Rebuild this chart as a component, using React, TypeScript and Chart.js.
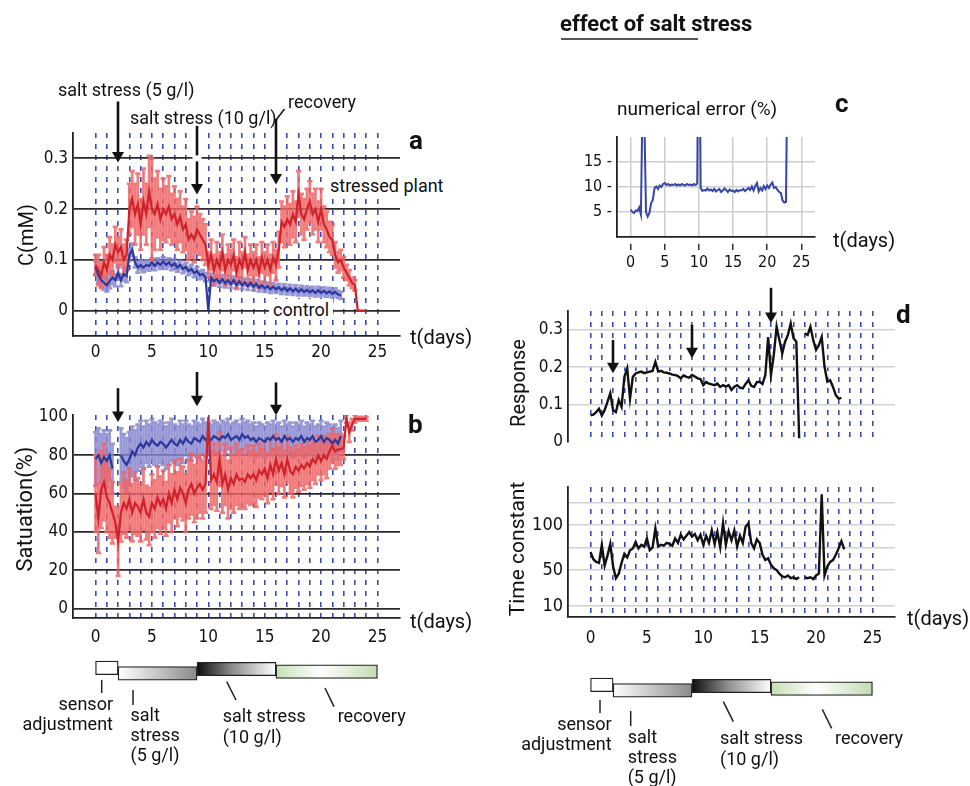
import React, { useEffect, useRef } from "react";
import { Chart, registerables } from "chart.js";

Chart.register(...registerables);

const TEXT_FONT = "Roboto, 'Liberation Sans', Arial, sans-serif";
const TICK_FONT = "'Liberation Sans Narrow', 'DejaVu Sans Condensed', Roboto, sans-serif";

// ---------- shared categories ----------
const STEP_DAYS = 0.25; // sampling interval of every series (days)
const DAY_GRID = [0, 1, 2, 3, 4, 5, 6, 7, 8, 9, 10, 11, 12, 13, 14, 15, 16, 17, 18, 19, 20, 21, 22, 23, 24, 25];
const DAY_LABELS = [0, 5, 10, 15, 20, 25];
const STRESS_DAYS = [2, 9, 16];
const PHASE_NAMES = ["sensor adjustment", "salt stress (5 g/l)", "salt stress (10 g/l)", "recovery"];
const PHASE_START = [0, 2, 9, 16];
const PHASE_END = [2, 9, 16, 25];

// ---------- panel a : C (mM) ----------
const A_Y_TICKS = [0, 0.1, 0.2, 0.3];
const A_STRESSED = [
  0.09, 0.08, 0.07, 0.095, 0.08, 0.11, 0.1, 0.13, 0.115, 0.125, 0.1, 0.11,
  0.2, 0.22, 0.19, 0.21, 0.17, 0.215, 0.19, 0.235,
  0.2, 0.19, 0.21, 0.18, 0.2, 0.19, 0.205, 0.18,
  0.19, 0.17, 0.185, 0.16, 0.17, 0.14, 0.15, 0.14,
  0.16, 0.15, 0.14, 0.13,
  0.09, 0.11, 0.08, 0.1, 0.085, 0.115, 0.08, 0.1,
  0.09, 0.11, 0.075, 0.1, 0.085, 0.115, 0.08, 0.1,
  0.085, 0.1, 0.075, 0.105, 0.085, 0.1, 0.08, 0.105,
  0.09, 0.12, 0.175, 0.165, 0.18, 0.17, 0.19, 0.175,
  0.23, 0.19, 0.18, 0.2, 0.215, 0.19, 0.2, 0.175,
  0.2, 0.17, 0.16, 0.145, 0.14, 0.11, 0.095, 0.1,
  0.085, 0.075, 0.065, 0.055, 0.05, 0, 0, 0, 0,
];
const A_STRESSED_ERR = [
  0.02, 0.03, 0.025, 0.03, 0.03, 0.035, 0.03, 0.035, 0.03, 0.035, 0.03, 0.03,
  0.05, 0.055, 0.06, 0.06, 0.05, 0.065, 0.06, 0.07,
  0.1, 0.07, 0.065, 0.06, 0.06, 0.055, 0.06, 0.05,
  0.055, 0.05, 0.05, 0.045, 0.05, 0.04, 0.045, 0.045,
  0.045, 0.04, 0.04, 0.04,
  0.025, 0.03, 0.03, 0.035, 0.03, 0.035, 0.03, 0.03,
  0.03, 0.03, 0.03, 0.035, 0.03, 0.03, 0.03, 0.03,
  0.03, 0.03, 0.03, 0.03, 0.03, 0.03, 0.03, 0.03,
  0.03, 0.035, 0.04, 0.04, 0.045, 0.04, 0.045, 0.04,
  0.045, 0.04, 0.04, 0.04, 0.04, 0.04, 0.04, 0.04,
  0.04, 0.035, 0.035, 0.03, 0.03, 0.025, 0.02, 0.02,
  0.02, 0.015, 0.015, 0.01, 0.01, 0, 0, 0, 0,
];
const A_CONTROL = [
  0.085, 0.07, 0.06, 0.055, 0.05, 0.058, 0.065, 0.06, 0.075, 0.06, 0.072, 0.068,
  0.11, 0.12, 0.095, 0.085, 0.09, 0.085, 0.09, 0.088,
  0.095, 0.088, 0.095, 0.09, 0.097, 0.09, 0.095, 0.088,
  0.093, 0.085, 0.09, 0.082, 0.086, 0.078, 0.082, 0.074,
  0.078, 0.07, 0.072, 0.066,
  0.0, 0.065, 0.058, 0.062, 0.055, 0.062, 0.054, 0.06,
  0.052, 0.06, 0.05, 0.058, 0.05, 0.056, 0.048, 0.055,
  0.047, 0.053, 0.045, 0.05, 0.044, 0.048, 0.042, 0.047,
  0.042, 0.046, 0.04, 0.045, 0.039, 0.044, 0.038, 0.043,
  0.037, 0.042, 0.037, 0.041, 0.036, 0.04, 0.035, 0.04,
  0.035, 0.039, 0.034, 0.038, 0.033, 0.037, 0.032, 0.03,
];
const A_CONTROL_ERR = [
  0.014, 0.015, 0.013, 0.014, 0.012, 0.014, 0.013, 0.012, 0.014, 0.012, 0.013, 0.012,
  0.012, 0.012, 0.01, 0.01, 0.009, 0.009, 0.009, 0.009,
  0.008, 0.008, 0.008, 0.008, 0.008, 0.008, 0.008, 0.008,
  0.008, 0.008, 0.008, 0.008, 0.008, 0.008, 0.008, 0.008,
  0.008, 0.008, 0.008, 0.008,
  0, 0.008, 0.008, 0.008, 0.008, 0.008, 0.008, 0.008,
  0.007, 0.007, 0.007, 0.007, 0.007, 0.007, 0.007, 0.007,
  0.007, 0.007, 0.007, 0.007, 0.007, 0.007, 0.007, 0.007,
  0.007, 0.007, 0.007, 0.007, 0.007, 0.007, 0.007, 0.007,
  0.007, 0.007, 0.007, 0.007, 0.007, 0.007, 0.007, 0.007,
  0.007, 0.007, 0.007, 0.007, 0.007, 0.007, 0.007, 0.007,
];

// ---------- panel b : saturation (%) ----------
const B_Y_TICKS = [0, 20, 40, 60, 80, 100];
const B_STRESSED = [
  60, 47, 62, 66, 58, 55, 50, 45, 35, 50, 55, 52,
  57, 50, 55, 53, 50, 57, 50, 48,
  55, 52, 58, 54, 57, 52, 60, 55,
  62, 57, 63, 60, 55, 62, 65, 60,
  63, 65, 62, 65,
  100, 67, 70, 66, 78, 65, 70, 62,
  68, 65, 70, 67, 68, 66, 70, 68,
  70, 67, 72, 70, 73, 68, 75, 70,
  78, 72, 76, 70, 78, 72, 70, 74,
  72, 75, 73, 76, 74, 78, 76, 80,
  77, 80, 78, 82, 85, 82, 83, 83,
  84, 99, 92, 96, 99, 99, 99, 99, 99,
];
const B_STRESSED_ERR = [
  20, 18, 20, 20, 18, 18, 16, 8, 18, 15, 16, 15,
  16, 15, 16, 15, 15, 16, 14, 15,
  15, 15, 16, 15, 15, 14, 15, 15,
  15, 14, 15, 14, 15, 15, 16, 15,
  16, 15, 15, 15,
  0, 15, 16, 15, 14, 15, 16, 15,
  16, 15, 16, 15, 15, 14, 15, 14,
  15, 14, 14, 13, 14, 13, 14, 13,
  13, 12, 12, 12, 12, 12, 12, 11,
  11, 11, 11, 11, 11, 11, 11, 10,
  10, 10, 10, 9, 9, 9, 8, 8,
  6, 2, 5, 3, 2, 1, 1, 1, 1,
];
const B_CONTROL = [
  78, 80, 76, 79, 77, 80, 73, null, null, 80, 77, 75,
  78, 82, 80, 84, 86, 84, 87, 85,
  88, 86, 85, 87, 86, 84, 86, 88,
  86, 85, 88, 86, 89, 87, 86, 89,
  88, 87, 90, 88,
  89, 88, 90, 89, 88, 90, 89, 91,
  88, 89, 90, 88, 91, 89, 90, 88,
  89, 87, 89, 88, 87, 89, 88, 90,
  88, 89, 87, 90, 88, 89, 87, 89,
  88, 90, 87, 89, 88, 90, 87, 88,
  90, 87, 89, 88, 86, 88, 86, 90,
];
const B_CONTROL_ERR = [
  14, 14, 15, 14, 14, 13, 13, null, null, 14, 14, 14,
  14, 13, 13, 12, 12, 11, 11, 11,
  11, 11, 11, 11, 11, 11, 11, 11,
  10, 10, 10, 10, 9, 9, 9, 9,
  9, 9, 9, 9,
  8, 8, 8, 8, 8, 8, 8, 8,
  8, 8, 8, 8, 8, 8, 8, 8,
  8, 8, 8, 8, 8, 8, 8, 8,
  8, 8, 8, 8, 8, 8, 8, 8,
  8, 8, 8, 8, 8, 8, 8, 8,
  8, 8, 8, 8, 8, 8, 8, 8,
];

// ---------- panel c : numerical error (%) ----------
const C_X_TICKS = [0, 5, 10, 15, 20, 25];
const C_Y_TICKS = [5, 10, 15];
const C_ERROR = [
  5.5, 5.0, 4.8, 5.3, 5.2, 5.9, 4.5, 28,
  24, 5.0, 4.1, 4.8, 6.8, 7.4, 9.8, 10.1,
  9.6, 10.3, 10.0, 10.6, 10.8, 10.4, 10.6, 10.3,
  10.5, 10.4, 10.6, 10.3, 10.5, 10.3, 10.6, 10.4,
  10.3, 10.6, 10.4, 10.5, 10.3, 10.6, 10.4, 10.7,
  60, 9.8, 9.2, 9.4, 9.3, 9.7, 9.3, 9.5,
  9.2, 9.6, 9.1, 9.4, 9.6, 9.0, 9.3, 9.7,
  9.4, 9.0, 9.5, 9.2, 9.3, 9.0, 9.4, 9.1,
  9.4, 9.3, 9.6, 9.2, 9.5, 9.8, 9.4, 10.1,
  9.3, 10.2, 10.8, 9.1, 9.8, 9.3, 10.2, 9.6,
  10.3, 9.8, 10.5, 10.9, 9.8, 10.0, 9.4, 9.0,
  8.8, 7.3, 6.9, 7.0, 40,
];

// ---------- panel d : response & time constant ----------
const D_RESP_GRID = [0, 0.05, 0.1, 0.15, 0.2, 0.25, 0.3];
const D_RESP_LABELS = [0, 0.1, 0.2, 0.3];
const D_RESPONSE = [
  0.071, 0.073, 0.08, 0.089, 0.071, 0.085, 0.107, 0.13, 0.085, 0.08, 0.112, 0.094,
  0.174, 0.197, 0.116, 0.174, 0.183, 0.186, 0.188, 0.184,
  0.186, 0.188, 0.19, 0.214, 0.188, 0.19, 0.186, 0.185,
  0.183, 0.18, 0.179, 0.176, 0.17, 0.178, 0.174, 0.172,
  0.179, 0.175, 0.17, 0.168,
  0.152, 0.16, 0.156, 0.154, 0.152, 0.156, 0.147, 0.152,
  0.148, 0.152, 0.139, 0.148, 0.152, 0.145, 0.143, 0.155,
  0.165, 0.15, 0.147, 0.16, 0.161, 0.155, 0.179, 0.28,
  0.179, 0.232, 0.308, 0.272, 0.237, 0.268, 0.286, 0.317,
  0.277, 0.268, 0.01, null, 0.29, 0.286, 0.308, 0.272,
  0.246, 0.259, 0.281, 0.201, 0.161, 0.165, 0.147, 0.125,
  0.116, 0.118,
];
const D_TAU_GRID = [10, 50, 75, 100, 125];
const D_TAU_LABELS = [10, 50, 100];
const D_TAU = [
  70, 62, 59, 58, 78, 55, 66, 79, 54, 41, 46, 58,
  68, 64, 72, 74, 81, 74, 78, 76,
  85, 72, 75, 96, 76, 78, 77, 80,
  79, 77, 85, 80, 89, 84, 88, 92,
  87, 90, 83, 89,
  78, 88, 80, 94, 79, 92, 75, 102,
  78, 93, 83, 94, 76, 88, 80, 98,
  102, 80, 74, 84, 80, 67, 61, 63,
  56, 52, 50, 46, 43, 42, 44, 41,
  42, 40, 42, null, 42, 41, 42, 40,
  44, 46, 134, 44, 54, 59, 61, 67,
  74, 82, 73,
];

// ---------- styles ----------
const RED = "#d0222a";
const RED_ERR = "rgba(240, 100, 100, 0.85)";
const BLUE = "#2b389c";
const BLUE_ERR = "rgba(134, 134, 208, 0.85)";
const DASH_BLUE = "#3d4cb4";
const INK = "#111";
const BOX_LEVELS = [15.7, 26.7, 18, 23.3];
const PHASE_FILLS: [number, string][][] = [
  [[0, "#ffffff"], [1, "#ffffff"]],
  [[0, "#ffffff"], [1, "#8a8a8a"]],
  [[0, "#0e0e0e"], [0.45, "#8e8e8e"], [1, "#ffffff"]],
  [[0, "#c6dfb6"], [0.45, "#ffffff"], [1, "#c2dbb0"]],
];

const pts = (vals: (number | null)[]) => vals.map((v, i) => ({ x: i * STEP_DAYS, y: v }));

// ---------- plugins ----------
const errorBars = {
  id: "errorBars",
  beforeDatasetsDraw(chart: any) {
    const { ctx, chartArea: ca, scales } = chart;
    const xs = scales.x;
    const ys = scales.y;
    ctx.save();
    ctx.beginPath();
    ctx.rect(ca.left, ca.top, ca.right - ca.left, ca.bottom - ca.top);
    ctx.clip();
    const dss = chart.data.datasets;
    for (let d = dss.length - 1; d >= 0; d--) {
      const ds = dss[d];
      if (!ds.errors) continue;
      ctx.strokeStyle = ds.errorColor;
      ctx.lineWidth = 2.7;
      ctx.beginPath();
      ds.data.forEach((p: any, i: number) => {
        const e = ds.errors[i];
        if (p.y == null || e == null || e <= 0) return;
        const px = xs.getPixelForValue(p.x);
        const lo = ys.getPixelForValue(p.y - e);
        const hi = ys.getPixelForValue(p.y + e);
        ctx.moveTo(px, lo);
        ctx.lineTo(px, hi);
        ctx.moveTo(px - 2.6, lo);
        ctx.lineTo(px + 2.6, lo);
        ctx.moveTo(px - 2.6, hi);
        ctx.lineTo(px + 2.6, hi);
      });
      ctx.stroke();
    }
    ctx.restore();
  },
};

type ArrowSpec = { day: number; tail: number; tip: number; kink?: [number, number]; gapAt?: number };

function arrowsPlugin(items: ArrowSpec[]) {
  return {
    id: "arrows",
    afterDraw(chart: any) {
      const { ctx, scales } = chart;
      const xs = scales.x;
      const ys = scales.y;
      ctx.save();
      items.forEach((a) => {
        const px = Math.round(xs.getPixelForValue(a.day));
        const yT = ys.getPixelForValue(a.tail);
        const yH = ys.getPixelForValue(a.tip);
        ctx.strokeStyle = INK;
        ctx.fillStyle = INK;
        ctx.lineWidth = 2.6;
        ctx.beginPath();
        ctx.moveTo(px, yT);
        ctx.lineTo(px, yH - 8);
        ctx.stroke();
        ctx.beginPath();
        ctx.moveTo(px - 6, yH - 10.5);
        ctx.lineTo(px + 6, yH - 10.5);
        ctx.lineTo(px, yH);
        ctx.closePath();
        ctx.fill();
        if (a.kink) {
          ctx.lineWidth = 1.5;
          ctx.beginPath();
          ctx.moveTo(px, yT + 1);
          ctx.lineTo(px + a.kink[0], yT + a.kink[1]);
          ctx.stroke();
        }
        if (a.gapAt != null) {
          const gy = ys.getPixelForValue(a.gapAt);
          ctx.fillStyle = "#fff";
          ctx.fillRect(px - 4.5, gy - 3, 9, 6);
        }
      });
      ctx.restore();
    },
  };
}

// ---------- axis builders ----------
function dayAxis(o: { labels: boolean; height: number; padding?: number; border: boolean; size?: number }) {
  return {
    type: "linear",
    min: -2,
    max: 27,
    afterBuildTicks: (s: any) => {
      s.ticks = DAY_GRID.map((v) => ({ value: v }));
    },
    afterFit: (s: any) => {
      s.height = o.height;
    },
    ticks: {
      display: o.labels,
      autoSkip: false,
      maxRotation: 0,
      minRotation: 0,
      padding: o.padding ?? 6,
      color: INK,
      font: { family: TICK_FONT, size: o.size ?? 17 },
      callback: (v: number) => (DAY_LABELS.includes(v) ? String(v) : ""),
    },
    grid: { color: DASH_BLUE, lineWidth: 1.6, drawTicks: false },
    border: { display: o.border, color: "#222", width: 1.8, dash: [5, 6] },
  };
}

function valueAxis(o: {
  min: number;
  max: number;
  grid: number[];
  labels: number[];
  width: number;
  gridColor: (v: number) => string;
  gridWidth: number;
  size?: number;
  suffix?: string;
}) {
  return {
    type: "linear",
    min: o.min,
    max: o.max,
    afterBuildTicks: (s: any) => {
      s.ticks = o.grid.map((v) => ({ value: v }));
    },
    afterFit: (s: any) => {
      s.width = o.width;
    },
    ticks: {
      padding: 5,
      color: INK,
      font: { family: TICK_FONT, size: o.size ?? 17 },
      callback: (v: number) => (o.labels.includes(v) ? String(v) + (o.suffix ?? "") : ""),
    },
    grid: {
      color: (c: any) => o.gridColor(c.tick ? c.tick.value : NaN),
      lineWidth: o.gridWidth,
      drawTicks: false,
    },
    border: { color: "#222", width: 1.8 },
  };
}

const baseOptions = (padding: any) => ({
  responsive: false,
  animation: false,
  events: [],
  layout: { padding },
  plugins: { legend: { display: false }, tooltip: { enabled: false } },
});

const lineDs = (data: (number | null)[], color: string, width: number, errors?: (number | null)[], errorColor?: string) => ({
  type: "line",
  data: pts(data),
  borderColor: color,
  borderWidth: width,
  pointRadius: 0,
  tension: 0,
  spanGaps: false,
  errors,
  errorColor,
});

// ---------- chart configs ----------
function panelA() {
  return {
    type: "line",
    data: {
      datasets: [
        lineDs(A_STRESSED, RED, 2.2, A_STRESSED_ERR, RED_ERR),
        lineDs(A_CONTROL, BLUE, 2.2, A_CONTROL_ERR, BLUE_ERR),
      ],
    },
    options: {
      ...baseOptions({ top: 53, right: 80, bottom: 0, left: 0 }),
      scales: {
        x: dayAxis({ labels: true, height: 44, padding: 6, border: true }),
        y: valueAxis({
          min: -0.05,
          max: 0.35,
          grid: A_Y_TICKS,
          labels: A_Y_TICKS,
          width: 73,
          gridColor: () => "#2a2a2a",
          gridWidth: 1.8,
        }),
      },
    },
    plugins: [
      errorBars,
      arrowsPlugin([
        { day: STRESS_DAYS[0], tail: 0.412, tip: 0.292 },
        { day: STRESS_DAYS[1], tail: 0.364, tip: 0.229, gapAt: 0.3 },
        { day: STRESS_DAYS[2], tail: 0.3777, tip: 0.2485, kink: [8.5, -10] },
      ]),
    ],
  };
}

function panelB() {
  return {
    type: "line",
    data: {
      datasets: [
        lineDs(B_STRESSED, RED, 2.2, B_STRESSED_ERR, RED_ERR),
        lineDs(B_CONTROL, BLUE, 2.2, B_CONTROL_ERR, BLUE_ERR),
      ],
    },
    options: {
      ...baseOptions({ top: 55, right: 80, bottom: 0, left: 0 }),
      scales: {
        x: dayAxis({ labels: true, height: 42, padding: 9, border: true }),
        y: valueAxis({
          min: -5,
          max: 101,
          grid: B_Y_TICKS,
          labels: B_Y_TICKS,
          width: 73,
          gridColor: (v) => (v === 100 ? "rgba(0,0,0,0)" : "#2a2a2a"),
          gridWidth: 1.8,
        }),
      },
    },
    plugins: [
      errorBars,
      arrowsPlugin([
        { day: STRESS_DAYS[0], tail: 115, tip: 97.4 },
        { day: STRESS_DAYS[1], tail: 123.5, tip: 105.6 },
        { day: STRESS_DAYS[2], tail: 118, tip: 100.9 },
      ]),
    ],
  };
}

function panelC() {
  return {
    type: "line",
    data: { datasets: [lineDs(C_ERROR, "#3545a8", 2)] },
    options: {
      ...baseOptions({ top: 17, right: 25, bottom: 0, left: 0 }),
      scales: {
        x: {
          type: "linear",
          min: -2,
          max: 27,
          afterBuildTicks: (s: any) => {
            s.ticks = C_X_TICKS.map((v) => ({ value: v }));
          },
          afterFit: (s: any) => {
            s.height = 43;
          },
          ticks: { padding: 3, color: INK, autoSkip: false, maxRotation: 0, font: { family: TICK_FONT, size: 16 } },
          grid: {
            color: "#cdcdcd",
            lineWidth: 1.5,
            drawTicks: true,
            tickLength: 13,
            tickColor: "#333",
            tickWidth: 1.5,
            tickBorderDash: [0, 6, 7, 60],
          },
          border: { color: "#222", width: 1.8 },
        },
        y: valueAxis({
          min: 0,
          max: 20,
          grid: C_Y_TICKS,
          labels: C_Y_TICKS,
          width: 77,
          gridColor: () => "#cdcdcd",
          gridWidth: 1.5,
          size: 16,
          suffix: " -",
        }),
      },
    },
  };
}

function panelResponse() {
  return {
    type: "line",
    data: { datasets: [lineDs(D_RESPONSE, INK, 2.4)] },
    options: {
      ...baseOptions({ top: 31, right: 25, bottom: 16, left: 0 }),
      scales: {
        x: dayAxis({ labels: false, height: 0, border: false }),
        y: valueAxis({
          min: 0,
          max: 0.35,
          grid: D_RESP_GRID,
          labels: D_RESP_LABELS,
          width: 68,
          gridColor: (v) => (v === 0 ? "rgba(0,0,0,0)" : "#d2d2d2"),
          gridWidth: 1.5,
        }),
      },
    },
    plugins: [
      arrowsPlugin([
        { day: STRESS_DAYS[0], tail: 0.2727, tip: 0.184 },
        { day: STRESS_DAYS[1], tail: 0.313, tip: 0.224 },
        { day: STRESS_DAYS[2], tail: 0.412, tip: 0.318 },
      ]),
    ],
  };
}

function panelTau() {
  return {
    type: "line",
    data: { datasets: [lineDs(D_TAU, INK, 2.4)] },
    options: {
      ...baseOptions({ top: 17, right: 25, bottom: 0, left: 0 }),
      scales: {
        x: dayAxis({ labels: true, height: 33, padding: 11, border: true }),
        y: valueAxis({
          min: -2,
          max: 142,
          grid: D_TAU_GRID,
          labels: D_TAU_LABELS,
          width: 68,
          gridColor: () => "#d2d2d2",
          gridWidth: 1.5,
          size: 18,
        }),
      },
    },
  };
}

function timeline(padLeft: number, padRight: number) {
  return {
    type: "bar",
    data: {
      datasets: [
        {
          label: "phases",
          data: PHASE_START.map((s, i) => ({ x: [s, PHASE_END[i]], y: BOX_LEVELS[i] })),
          backgroundColor: (c: any) => {
            const chart = c.chart;
            const i = c.dataIndex;
            if (i == null || !chart.chartArea) return "#fff";
            const xs = chart.scales.x;
            const x0 = xs.getPixelForValue(PHASE_START[i]);
            const x1 = xs.getPixelForValue(PHASE_END[i]);
            const g = chart.ctx.createLinearGradient(x0, 0, x1, 0);
            PHASE_FILLS[i].forEach(([o, col]) => g.addColorStop(o, col));
            return g;
          },
          borderColor: "#222",
          borderWidth: 1.3,
          borderSkipped: false,
          barThickness: 13.5,
        },
      ],
    },
    options: {
      ...baseOptions({ top: 0, right: padRight, bottom: 0, left: padLeft }),
      indexAxis: "y",
      scales: {
        x: { type: "linear", min: -2, max: 27, display: false },
        y: { type: "linear", min: 0, max: 40, reverse: true, display: false },
      },
    },
  };
}

// ---------- components ----------
function ChartCanvas(props: { left: number; top: number; width: number; height: number; make: () => any }) {
  const ref = useRef<HTMLCanvasElement>(null);
  useEffect(() => {
    const chart = new Chart(ref.current as HTMLCanvasElement, props.make());
    return () => chart.destroy();
  }, []);
  return (
    <canvas
      ref={ref}
      width={props.width}
      height={props.height}
      style={{ position: "absolute", left: props.left, top: props.top, width: props.width, height: props.height }}
    />
  );
}

function Txt(props: {
  left: number;
  top: number;
  size?: number;
  bold?: boolean;
  lh?: number;
  align?: "left" | "right";
  bg?: boolean;
  children: React.ReactNode;
}) {
  const size = props.size ?? 18;
  const style: React.CSSProperties = {
    position: "absolute",
    left: props.left,
    top: props.top,
    fontFamily: TEXT_FONT,
    fontSize: size,
    fontWeight: props.bold ? 700 : 400,
    lineHeight: (props.lh ?? Math.round(size * 1.17)) + "px",
    whiteSpace: "pre",
    color: INK,
    textAlign: props.align ?? "left",
  };
  if (props.align === "right") style.transform = "translateX(-100%)";
  if (props.bg) {
    style.background = "#fff";
    style.padding = "0 4px";
    style.marginLeft = -4;
  }
  return <div style={style}>{props.children}</div>;
}

function VTxt(props: { cx: number; cy: number; size: number; children: React.ReactNode }) {
  return (
    <div
      style={{
        position: "absolute",
        left: props.cx,
        top: props.cy,
        transform: "translate(-50%, -50%) rotate(-90deg)",
        fontFamily: TEXT_FONT,
        fontSize: props.size,
        lineHeight: props.size + "px",
        whiteSpace: "nowrap",
        color: INK,
      }}
    >
      {props.children}
    </div>
  );
}

export default function App() {
  const connectors = [
    [101.7, 680, 101.7, 693],
    [133, 690, 133, 705],
    [226.7, 681.7, 236, 700],
    [325, 688, 334, 706.7],
    [600, 700, 600, 713],
    [630.7, 711, 630.7, 726],
    [723.3, 701.7, 733.3, 721.7],
    [822.3, 709.3, 831.7, 728.3],
  ];
  return (
    <div style={{ position: "absolute", left: 0, top: 0, width: 970, height: 786, background: "#fff", overflow: "hidden" }}>
      <ChartCanvas left={0} top={80} width={480} height={300} make={panelA} />
      <ChartCanvas left={0} top={360} width={480} height={300} make={panelB} />
      <ChartCanvas left={540} top={120} width={300} height={160} make={panelC} />
      <ChartCanvas left={500} top={280} width={420} height={178} make={panelResponse} />
      <ChartCanvas left={500} top={470} width={420} height={180} make={panelTau} />
      <ChartCanvas left={0} top={650} width={480} height={40} make={() => timeline(73, 80)} />
      <ChartCanvas left={500} top={667} width={420} height={40} make={() => timeline(68, 25)} />

      <svg width={970} height={786} style={{ position: "absolute", left: 0, top: 0, pointerEvents: "none" }}>
        {connectors.map((l, i) => (
          <line key={i} x1={l[0]} y1={l[1]} x2={l[2]} y2={l[3]} stroke="#222" strokeWidth={1.5} />
        ))}
      </svg>

      {/* title */}
      <Txt left={560} top={11} size={22} bold lh={26}>effect of salt stress</Txt>
      <div style={{ position: "absolute", left: 561, top: 37.5, width: 137, height: 2, background: "#555" }} />

      {/* panel a */}
      <Txt left={58} top={79}>salt stress (5 g/l)</Txt>
      <Txt left={130} top={106.5}>salt stress (10 g/l)</Txt>
      <Txt left={288} top={90.5}>recovery</Txt>
      <Txt left={330} top={175} bg>stressed plant</Txt>
      <Txt left={273} top={299} bg>control</Txt>
      <Txt left={409} top={125} size={26} bold lh={30}>a</Txt>
      <Txt left={410} top={325} size={20} lh={24}>t(days)</Txt>
      <VTxt cx={26} cy={235} size={20}>C(mM)</VTxt>

      {/* panel b */}
      <Txt left={408} top={409} size={26} bold lh={30}>b</Txt>
      <Txt left={410} top={609} size={20} lh={24}>t(days)</Txt>
      <VTxt cx={25} cy={509} size={22}>Satuation(%)</VTxt>

      {/* timeline under a/b */}
      <Txt left={113} top={693.6} align="right" lh={20.7}>{"sensor\nadjustment"}</Txt>
      <Txt left={130.5} top={705.3} lh={20}>{"salt\nstress\n(5 g/l)"}</Txt>
      <Txt left={222.7} top={705.3} lh={21}>{"salt stress\n(10 g/l)"}</Txt>
      <Txt left={337.7} top={705.3}>recovery</Txt>

      {/* panel c */}
      <Txt left={617} top={97.5} size={19} lh={22}>numerical error (%)</Txt>
      <Txt left={835} top={88} size={26} bold lh={30}>c</Txt>
      <Txt left={833} top={228} size={20} lh={24}>t(days)</Txt>

      {/* panel d */}
      <Txt left={896} top={299} size={26} bold lh={30}>d</Txt>
      <VTxt cx={517.5} cy={383} size={20}>Response</VTxt>
      <VTxt cx={517} cy={549} size={21}>Time constant</VTxt>
      <Txt left={907} top={606} size={20} lh={24}>t(days)</Txt>

      {/* timeline under d */}
      <Txt left={611.7} top={713.6} align="right" lh={20.7}>{"sensor\nadjustment"}</Txt>
      <Txt left={627.7} top={727} lh={20}>{"salt\nstress\n(5 g/l)"}</Txt>
      <Txt left={720} top={727} lh={21}>{"salt stress\n(10 g/l)"}</Txt>
      <Txt left={835} top={727}>recovery</Txt>

      <span style={{ display: "none" }}>{PHASE_NAMES.join(", ")}</span>
    </div>
  );
}
